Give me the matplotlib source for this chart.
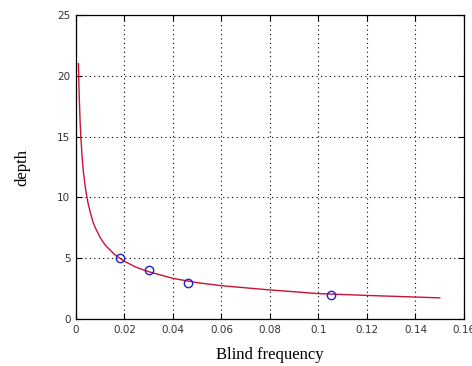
import matplotlib.pyplot as plt

# measured points
freq_pts = [0.018, 0.030, 0.046, 0.105]
depth_pts = [5.0, 4.0, 3.0, 2.0]

# fitted curve
curve_f = [0.001, 0.0013, 0.0017, 0.002, 0.0025, 0.003, 0.004, 0.005, 0.006,
           0.007, 0.008, 0.010, 0.012, 0.014, 0.016, 0.020, 0.025, 0.030,
           0.040, 0.050, 0.060, 0.080, 0.100, 0.120, 0.150]
curve_d = [21.0, 18.5, 16.2, 15.0, 13.4, 12.2, 10.6, 9.5, 8.7,
           8.0, 7.5, 6.7, 6.1, 5.7, 5.3, 4.75, 4.25, 3.9,
           3.35, 3.0, 2.75, 2.4, 2.1, 1.95, 1.75]

xticks = [0, 0.02, 0.04, 0.06, 0.08, 0.1, 0.12, 0.14, 0.16]
xtick_labels = ["0", "0.02", "0.04", "0.06", "0.08", "0.1", "0.12", "0.14", "0.16"]
yticks = [0, 5, 10, 15, 20, 25]

fig = plt.figure(figsize=(4.72, 3.66), dpi=100)
ax = fig.add_axes([0.161, 0.128, 0.822, 0.831])

ax.plot(curve_f, curve_d, color="#cc1133", lw=1.0)
ax.plot(freq_pts, depth_pts, "o", mfc="none", mec="#2222cc", ms=6, mew=1.0)

ax.set_xlim(0, 0.16)
ax.set_ylim(0, 25)
ax.set_xticks(xticks)
ax.set_xticklabels(xtick_labels)
ax.set_yticks(yticks)

ax.grid(True, color="black", linestyle=(0, (1, 3)), lw=0.8)
ax.tick_params(direction="in", top=True, right=True, labelsize=7.5,
               labelcolor="#333333", length=4, pad=4)
for s in ax.spines.values():
    s.set_linewidth(0.9)

ax.set_xlabel("Blind frequency", family="Liberation Serif", fontsize=12, labelpad=9)
ax.set_ylabel("depth", family="Liberation Serif", fontsize=12, labelpad=19)

fig.savefig("out.png", dpi=100)
